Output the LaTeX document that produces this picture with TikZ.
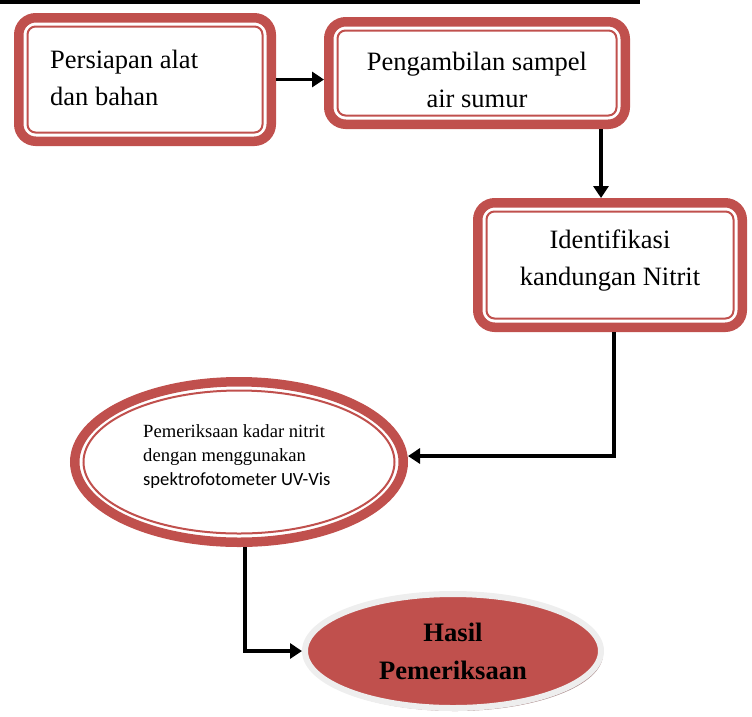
\documentclass[tikz,border=0pt]{standalone}
\usepackage{fontspec}
\setmainfont{Liberation Serif}
\newfontfamily\carlito{Carlito}
\usetikzlibrary{arrows.meta,shapes.geometric,shadows}
\definecolor{rb}{HTML}{C0504D}
\definecolor{hgray}{HTML}{EEEEEE}
\definecolor{hshadow}{HTML}{A88888}
\begin{document}
\begin{tikzpicture}[x=1pt,y=-1pt,
  boxo/.style={draw=rb, line width=9.5pt, rounded corners=17pt, inner sep=0pt},
  thinb/.style={draw=rb, line width=2pt, rounded corners=8pt},
  boxtext/.style={inner sep=0pt, font=\fontsize{26.5}{37}\selectfont},
  ello/.style={ellipse, draw=rb, line width=9.5pt, inner sep=0pt},
  arr/.style={line width=3.5pt, -{Triangle[length=12pt,width=15pt]}},
]
\useasboundingbox (0,0) rectangle (752,716);
% top rule
\draw[line width=3.5pt] (0,1.75) -- (640,1.75);

% boxes
\node[boxo, minimum width=252.5pt, minimum height=123.5pt] (b1) at (145,79.5) {};
\draw[thinb] ([shift={(13.5,13.5)}]b1.north west) rectangle ([shift={(-13.5,-13.5)}]b1.south east);
\node[boxtext, anchor=west, align=left] (t1) at (50,78) {Persiapan alat\\dan bahan};

\node[boxo, minimum width=296.5pt, minimum height=102.5pt] (b2) at (477,73) {};
\draw[thinb] ([shift={(13.5,13.5)}]b2.north west) rectangle ([shift={(-13.5,-13.5)}]b2.south east);
\node[boxtext, align=center] (t2) at (477,80) {Pengambilan sampel\\air sumur};

\node[boxo, minimum width=264.5pt, minimum height=124.5pt] (b3) at (610,265) {};
\draw[thinb] ([shift={(13.5,13.5)}]b3.north west) rectangle ([shift={(-13.5,-13.5)}]b3.south east);
\node[boxtext, align=center] (t3) at (610,261) {Identifikasi\\kandungan Nitrit};

% ellipse 1
\node[ello, minimum width=328.5pt, minimum height=160.5pt] (e1) at (239,462) {};
\draw[draw=rb, line width=2pt] (e1.center) ellipse [x radius=155.5pt, y radius=71.5pt];
\node[inner sep=0pt, anchor=west, align=left, font=\fontsize{18.6}{24}\selectfont] (te) at (143,457)
  {Pemeriksaan kadar nitrit\\dengan menggunakan\\{\carlito spektrofotometer UV-Vis}};

% result ellipse
\node[ellipse, fill=rb, draw=hgray, line width=6pt, inner sep=0pt,
      minimum width=296pt, minimum height=114pt,
      drop shadow={shadow xshift=2pt, shadow yshift=-3pt, fill=hshadow, opacity=1},
      align=center, font=\bfseries\fontsize{26.6}{38}\selectfont] (h) at (453,651)
  {Hasil\\Pemeriksaan};

% connectors
\coordinate (k23) at (601,0);
\coordinate (k3) at (614,456);
\coordinate (k4) at (245,0);
\draw[arr] (b1.east) -- (b1.east -| b2.west);
\draw[arr] (b2.south -| k23) -- (b3.north -| k23);
\draw[arr] (b3.south -| k3) |- (e1.east |- k3);
\draw[arr] (e1.south -| k4) |- (h.west);
\end{tikzpicture}
\end{document}
